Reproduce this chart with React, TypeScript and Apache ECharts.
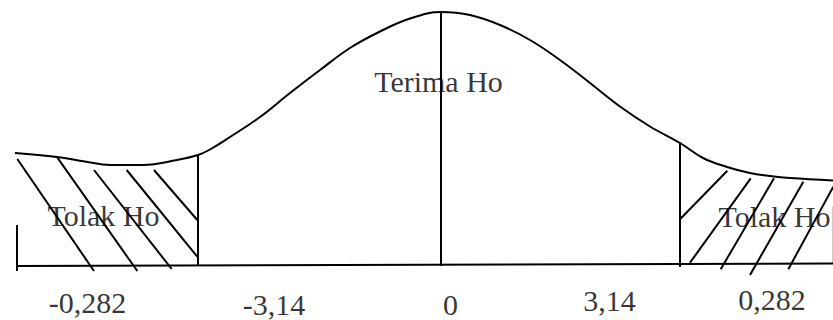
import React, { useEffect, useRef } from "react";
import * as echarts from "echarts";

// Diagram units: x = horizontal offset from the centre line (0), y = height above the baseline.
const curvePoints: [number, number][] = [
  [-426, 113], [-384, 109], [-356, 104.5], [-331, 101], [-298, 101], [-264, 106],
  [-243, 111], [-231, 116.5], [-211, 129], [-181, 149], [-151, 173], [-121, 196],
  [-91, 218], [-61, 234.5], [-31, 247.5], [0, 254], [29, 251], [59, 241], [89, 226],
  [119, 206], [149, 183], [179, 159.5], [209, 139.5], [239, 123], [262, 108],
  [286, 99], [309, 93], [329, 90], [349, 88], [392, 85.5],
];

const baseline: [number, number][] = [[-424, 0], [392, 2.5]];
const leftTick: [number, number][] = [[-424, 41], [-424, -5]];
const leftCritical: [number, number][] = [[-243, 111], [-243, 0]];
const centreLine: [number, number][] = [[0, 254], [0, 0]];
const rightCritical: [number, number][] = [[239, 124], [239, -1]];
const edgeLine: [number, number][] = [[391.5, 59], [391.5, 3]];

const leftHatch: [number, number][][] = [
  [[-423.7, 107], [-347, -5]],
  [[-384.3, 109.3], [-303.7, -5]],
  [[-347, 96], [-269.3, -3]],
  [[-314.3, 96], [-243.7, 9.3]],
  [[-287, 96], [-243.7, 46]],
];
const rightHatch: [number, number][][] = [
  [[239, 46.7], [286.3, 95.3]],
  [[249, 3.3], [309.7, 87.7]],
  [[279.7, -3.3], [333, 87.7]],
  [[309, -9], [362.3, 84.3]],
  [[347.3, -3.3], [392.3, 79.3]],
];

const regionLabels: { name: string; value: [number, number] }[] = [
  { name: "Terima Ho", value: [-2.5, 185] },
  { name: "Tolak Ho", value: [-337.5, 51] },
  { name: "Tolak Ho", value: [333.5, 49.5] },
];
const tickLabels: { name: string; value: [number, number] }[] = [
  { name: "-0,282", value: [-353.5, -36] },
  { name: "-3,14", value: [-167, -38] },
  { name: "0", value: [9.5, -38.5] },
  { name: "3,14", value: [168.5, -34] },
  { name: "0,282", value: [331, -33.5] },
];

const FONT = "'Liberation Serif', 'Times New Roman', serif";

export default function App() {
  const ref = useRef<HTMLDivElement>(null);
  useEffect(() => {
    if (!ref.current) return;
    const chart = echarts.init(ref.current, undefined, { renderer: "svg" });
    const blackLines = [baseline, leftTick, leftCritical, centreLine, rightCritical]
      .concat(leftHatch, rightHatch)
      .map((c) => ({ coords: c }));
    chart.setOption({
      animation: false,
      backgroundColor: "#ffffff",
      grid: { left: 0, right: 0, top: 0, bottom: 0 },
      xAxis: { type: "value", min: -441, max: 392, show: false },
      yAxis: { type: "value", min: -54, max: 266, show: false },
      series: [
        {
          type: "line",
          data: curvePoints,
          smooth: 0.4,
          symbol: "none",
          lineStyle: { color: "#000", width: 2 },
          z: 2,
        },
        {
          type: "lines",
          coordinateSystem: "cartesian2d",
          data: blackLines,
          lineStyle: { color: "#000", width: 2, opacity: 1 },
          z: 2,
        },
        {
          type: "lines",
          coordinateSystem: "cartesian2d",
          data: [{ coords: edgeLine }],
          lineStyle: { color: "#c8c8c8", width: 1, opacity: 1 },
          z: 1,
        },
        {
          type: "scatter",
          data: regionLabels.concat(tickLabels),
          symbolSize: 1,
          itemStyle: { color: "transparent" },
          label: {
            show: true,
            position: "inside",
            formatter: "{b}",
            color: "#000",
            textBorderWidth: 0,
            fontSize: 30,
            lineHeight: 26,
            fontFamily: FONT,
          },
          z: 5,
        },
      ],
    });
    return () => chart.dispose();
  }, []);
  return (
    <div
      ref={ref}
      style={{ position: "absolute", left: 0, top: 0, width: 833, height: 320, background: "#fff" }}
    />
  );
}
